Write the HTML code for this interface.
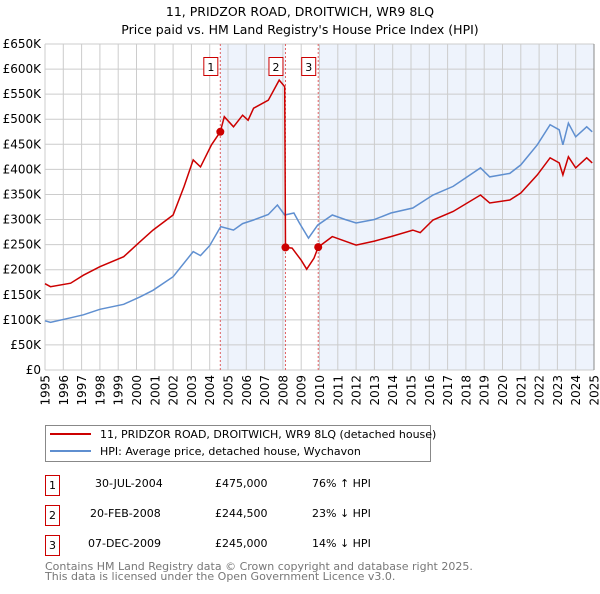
<!DOCTYPE html>
<html><head><meta charset="utf-8"><style>
body{margin:0;background:#fff;font-family:"DejaVu Sans","Liberation Sans",sans-serif;}
svg text{font-family:"DejaVu Sans","Liberation Sans",sans-serif;}
</style></head><body>
<svg id="c" width="600" height="590" xmlns="http://www.w3.org/2000/svg">
<text x="300" y="16" text-anchor="middle" font-size="12.5">11, PRIDZOR ROAD, DROITWICH, WR9 8LQ</text>
<text x="300" y="34" text-anchor="middle" font-size="12.5">Price paid vs. HM Land Registry's House Price Index (HPI)</text>
<g id="shade"></g><g id="grid"></g><g id="axes"></g><g id="series"></g><g id="marks"></g>
<g>
<rect x="45.5" y="425.5" width="385" height="36" fill="#fff" stroke="#888"/>
<line x1="50" y1="434" x2="91" y2="434" stroke="#cc0000" stroke-width="2"/>
<text x="100" y="438" font-size="11">11, PRIDZOR ROAD, DROITWICH, WR9 8LQ (detached house)</text>
<line x1="50" y1="451" x2="91" y2="451" stroke="#5f8fd0" stroke-width="2"/>
<text x="100" y="455" font-size="11">HPI: Average price, detached house, Wychavon</text>
</g>
<g font-size="11">
<rect x="45.5" y="475.5" width="14" height="20" fill="none" stroke="#cc0000"/><text x="52.5" y="489" text-anchor="middle">1</text>
<text x="95" y="487">30-JUL-2004</text><text x="215" y="487">£475,000</text><text x="312" y="487">76% ↑ HPI</text>
<rect x="45.5" y="505.5" width="14" height="20" fill="none" stroke="#cc0000"/><text x="52.5" y="519" text-anchor="middle">2</text>
<text x="90" y="517">20-FEB-2008</text><text x="215" y="517">£244,500</text><text x="312" y="517">23% ↓ HPI</text>
<rect x="45.5" y="535.5" width="14" height="20" fill="none" stroke="#cc0000"/><text x="52.5" y="549" text-anchor="middle">3</text>
<text x="88" y="547">07-DEC-2009</text><text x="215" y="547">£245,000</text><text x="312" y="547">14% ↓ HPI</text>
</g>
<text x="45" y="570" font-size="11" fill="#777">Contains HM Land Registry data © Crown copyright and database right 2025.</text>
<text x="45" y="580" font-size="11" fill="#777">This data is licensed under the Open Government Licence v3.0.</text>
</svg>
<script>
const yTicks=[0,50,100,150,200,250,300,350,400,450,500,550,600,650];
const yLabels=["£0","£50K","£100K","£150K","£200K","£250K","£300K","£350K","£400K","£450K","£500K","£550K","£600K","£650K"];
const xYears=[1995,1996,1997,1998,1999,2000,2001,2002,2003,2004,2005,2006,2007,2008,2009,2010,2011,2012,2013,2014,2015,2016,2017,2018,2019,2020,2021,2022,2023,2024,2025];
const hpiT=[1995.0,1995.3,1996.4,1997.1,1998.0,1999.3,2000.2,2000.9,2002.0,2003.1,2003.5,2004.0,2004.6,2005.3,2005.8,2006.4,2007.2,2007.7,2008.1,2008.6,2008.9,2009.4,2009.9,2010.7,2011.4,2012.0,2013.0,2013.9,2015.1,2016.2,2017.3,2018.8,2019.3,2020.4,2021.0,2021.9,2022.6,2023.1,2023.3,2023.6,2024.0,2024.6,2024.9];
const hpiV=[98,95,104,110,121,131,146,159,186,236,228,248,286,279,292,299,310,329,309,313,293,263,289,309,300,293,300,313,323,349,366,403,385,392,409,449,489,479,449,492,465,485,475];
const salesT=[1995.0,1995.3,1996.4,1997.1,1998.0,1999.3,2000.2,2000.9,2002.0,2002.6,2003.1,2003.5,2004.1,2004.58,2004.8,2005.3,2005.8,2006.1,2006.4,2007.2,2007.8,2008.1,2008.14,2008.5,2009.0,2009.3,2009.7,2009.93,2010.7,2012.0,2013.0,2013.9,2015.1,2015.5,2016.2,2017.3,2018.8,2019.3,2020.4,2021.0,2021.9,2022.6,2023.1,2023.3,2023.6,2024.0,2024.6,2024.9];
const salesV=[172,166,173,189,206,226,256,279,309,366,419,405,449,475,505,485,508,498,522,538,578,565,244.5,243,219,201,223,245,266,249,257,266,279,274,299,316,349,333,339,353,389,423,413,389,425,403,423,413];
const saleT=[2004.58,2008.14,2009.93];
const saleV=[475,244.5,245];
const saleLbl=["1","2","3"];
const X0=45,X1=594,Y0=370,Y1=44;
const xs=t=>X0+(t-1995)/30*(X1-X0);
const ys=v=>Y0-v/650*(Y0-Y1);
const NS="http://www.w3.org/2000/svg";
function mk(tag,attrs,parent){const e=document.createElementNS(NS,tag);for(const k in attrs)e.setAttribute(k,attrs[k]);document.getElementById(parent).appendChild(e);return e;}
const bg=mk('rect',{x:X0,y:Y1,width:X1-X0,height:Y0-Y1,fill:'#fff'},'shade');


const s1=mk('rect',{x:xs(saleT[0]),y:Y1,width:xs(saleT[1])-xs(saleT[0]),height:Y0-Y1,fill:'#eef3fc'},'shade');


const s2=mk('rect',{x:xs(saleT[2]),y:Y1,width:X1-xs(saleT[2]),height:Y0-Y1,fill:'#eef3fc'},'shade');


yTicks.forEach((v,i)=>{
 const l=mk('line',{x1:X0,x2:X1,y1:ys(v),y2:ys(v),stroke:'#ccc','stroke-width':1},'grid');
 
 
 const t=mk('text',{x:X0-4,y:ys(v)+4,'text-anchor':'end','font-size':12},'axes');t.textContent=yLabels[i];
 
 
});
xYears.forEach(y=>{
 const l=mk('line',{x1:xs(y),x2:xs(y),y1:Y1,y2:Y0,stroke:'#ccc','stroke-width':1},'grid');
 
 
 const t=mk('text',{x:0,y:0,'text-anchor':'end','font-size':12,transform:`translate(${xs(y)+4.5},${Y0+5}) rotate(-90)`},'axes');t.textContent=y;
 
 
});
saleT.forEach((t,i)=>{
 const l=mk('line',{x1:xs(t),x2:xs(t),y1:Y1,y2:Y0,stroke:'#e06060','stroke-width':1,'stroke-dasharray':'2,2'},'grid');
 
 
});
function path(T,V){return T.map((t,i)=>(i?'L':'M')+xs(t).toFixed(1)+','+ys(V[i]).toFixed(1)).join('');}
const hp=mk('path',{d:path(hpiT,hpiV),fill:'none',stroke:'#5f8fd0','stroke-width':1.5},'series');


const rp=mk('path',{d:path(salesT,salesV),fill:'none',stroke:'#cc0000','stroke-width':1.5},'series');


saleT.forEach((t,i)=>{
 const c=mk('circle',{cx:xs(t),cy:ys(saleV[i]),r:4,fill:'#cc0000'},'marks');
 
 
 const r=mk('rect',{x:xs(t)-16.5,y:57.5,width:14,height:18,fill:'#fff',stroke:'#cc0000'},'marks');
 
 
 const tx=mk('text',{x:xs(t)-9.5,y:71,'text-anchor':'middle','font-size':11},'marks');tx.textContent=saleLbl[i];
 
 
});
const ax=mk('line',{x1:X1,x2:X1,y1:Y1,y2:Y0,stroke:'#888','stroke-width':1},'axes');


</script>
</body></html>
